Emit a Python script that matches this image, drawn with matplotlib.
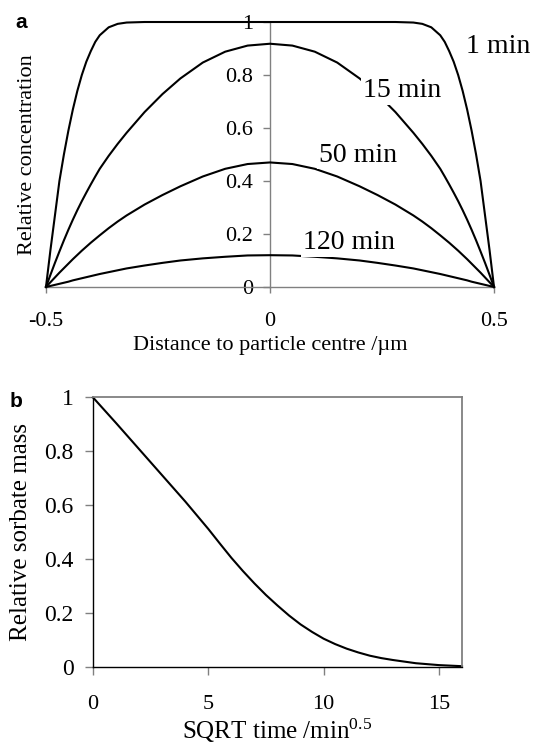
import matplotlib
matplotlib.use("Agg")
import matplotlib.pyplot as plt

plt.rcParams['font.family'] = ['Liberation Serif', 'DejaVu Serif']

# panel a: concentration profiles across the particle
dist = [-0.5, -0.49, -0.48, -0.47, -0.46, -0.45, -0.44, -0.43, -0.42, -0.41, -0.40,
        -0.39, -0.38, -0.36, -0.34, -0.32, -0.28, -0.24, -0.20, -0.15, -0.10, -0.05, 0,
        0.05, 0.10, 0.15, 0.20, 0.24, 0.28, 0.32, 0.34, 0.36, 0.38, 0.39,
        0.40, 0.41, 0.42, 0.43, 0.44, 0.45, 0.46, 0.47, 0.48, 0.49, 0.5]
c_1min = [0, 0.14, 0.27, 0.40, 0.50, 0.59, 0.67, 0.74, 0.80, 0.85, 0.89,
          0.925, 0.95, 0.98, 0.993, 0.998, 1, 1, 1, 1, 1, 1, 1,
          1, 1, 1, 1, 1, 1, 0.998, 0.993, 0.98, 0.95, 0.925,
          0.89, 0.85, 0.80, 0.74, 0.67, 0.59, 0.50, 0.40, 0.27, 0.14, 0]
c_15min = [0, 0.046, 0.091, 0.134, 0.176, 0.216, 0.254, 0.29, 0.324, 0.356, 0.387,
           0.417, 0.446, 0.495, 0.54, 0.582, 0.66, 0.728, 0.787, 0.847, 0.888, 0.911, 0.918,
           0.911, 0.888, 0.847, 0.787, 0.728, 0.66, 0.582, 0.54, 0.495, 0.446, 0.417,
           0.387, 0.356, 0.324, 0.29, 0.254, 0.216, 0.176, 0.134, 0.091, 0.046, 0]
c_50min = [0, 0.018, 0.036, 0.054, 0.071, 0.088, 0.105, 0.121, 0.137, 0.152, 0.167,
           0.181, 0.195, 0.222, 0.247, 0.27, 0.311, 0.347, 0.38, 0.417, 0.446, 0.464, 0.47,
           0.464, 0.446, 0.417, 0.38, 0.347, 0.311, 0.27, 0.247, 0.222, 0.195, 0.181,
           0.167, 0.152, 0.137, 0.121, 0.105, 0.088, 0.071, 0.054, 0.036, 0.018, 0]
c_120min = [0, 0.004, 0.008, 0.012, 0.016, 0.02, 0.025, 0.029, 0.033, 0.037, 0.041,
            0.045, 0.049, 0.056, 0.063, 0.07, 0.081, 0.091, 0.10, 0.108, 0.114, 0.119, 0.12,
            0.119, 0.114, 0.108, 0.10, 0.091, 0.081, 0.07, 0.063, 0.056, 0.049, 0.045,
            0.041, 0.037, 0.033, 0.029, 0.025, 0.02, 0.016, 0.012, 0.008, 0.004, 0]
curve_labels = ["1 min", "15 min", "50 min", "120 min"]
label_pos = [(0.509, 0.909), (0.295, 0.743), (0.196, 0.498), (0.176, 0.166)]

# panel b: sorbate mass vs sqrt(time)
sqrt_t = [0, 1, 2, 3, 4, 5, 5.5, 6, 6.5, 7, 7.5, 8, 8.5, 9, 9.5, 10, 10.5,
          11, 11.5, 12, 12.5, 13, 14, 15, 16]
mass = [1.0, 0.905, 0.808, 0.711, 0.614, 0.512, 0.458, 0.405, 0.356, 0.310, 0.267,
        0.228, 0.191, 0.158, 0.13, 0.105, 0.085, 0.068, 0.054, 0.042, 0.033, 0.026,
        0.014, 0.007, 0.003]

fig = plt.figure(figsize=(5.34, 7.46), dpi=100)
grey = '#808080'

# ---- panel a
ax1 = fig.add_axes([0.0861, 0.6153, 0.8390, 0.3552])
for ys in [c_1min, c_15min, c_50min, c_120min]:
    ax1.plot(dist, ys, color='black', lw=1.5, clip_on=False, zorder=3)
ax1.set_xlim(-0.5, 0.5)
ax1.set_ylim(0, 1)
ax1.spines['top'].set_visible(False)
ax1.spines['right'].set_visible(False)
ax1.spines['left'].set_position(('data', 0))
for s in ['left', 'bottom']:
    ax1.spines[s].set_color(grey)
    ax1.spines[s].set_linewidth(1)
ax1.set_xticks([-0.5, 0, 0.5], ['-0.5', '0', '0.5'])
ax1.set_yticks([0, 0.2, 0.4, 0.6, 0.8, 1], ['0', '0.2', '0.4', '0.6', '0.8', '1'])
ax1.tick_params(axis='y', direction='out', length=5, width=1, color=grey, pad=7, labelsize=16)
ax1.tick_params(axis='x', direction='out', length=4, width=1, color=grey, pad=14, labelsize=16)
ax1.set_xlabel('Distance to particle centre /\u00b5m', fontsize=16)
ax1.xaxis.set_label_coords(0.5, -0.185)
ax1.set_ylabel('Relative concentration', fontsize=16)
ax1.yaxis.set_label_coords(-0.02, 0.5)
for lab, (lx, ly) in zip(curve_labels, label_pos):
    ax1.text(lx, ly, lab, fontsize=20, ha='center', va='center', zorder=5,
             bbox=dict(facecolor='white', edgecolor='none', pad=1.5))

# ---- panel b
ax2 = fig.add_axes([0.1742, 0.1059, 0.6910, 0.3613])
ax2.plot(sqrt_t, mass, color='black', lw=1.5, clip_on=False)
ax2.set_xlim(0, 16)
ax2.set_ylim(0, 1)
ax2.spines['left'].set_color('black')
ax2.spines['bottom'].set_color('black')
ax2.spines['top'].set_color(grey)
ax2.spines['right'].set_color(grey)
for s in ax2.spines.values():
    s.set_linewidth(1)
ax2.spines['top'].set_linewidth(1.3)
ax2.spines['right'].set_linewidth(1.3)
ax2.set_xticks([0, 5, 10, 15], ['0', '5', '10', '15'])
ax2.set_yticks([0, 0.2, 0.4, 0.6, 0.8, 1], ['0', '0.2', '0.4', '0.6', '0.8', '1'])
ax2.tick_params(axis='y', direction='out', length=6, width=1, color=grey, pad=8, labelsize=17)
ax2.tick_params(axis='x', direction='out', length=6, width=1, color=grey, pad=14, labelsize=16)
ax2.set_xlabel('SQRT time /min$\\mathregular{^{0.5}}$', fontsize=18)
ax2.xaxis.set_label_coords(0.5, -0.185)
ax2.set_ylabel('Relative sorbate mass', fontsize=18)
ax2.yaxis.set_label_coords(-0.165, 0.5)

fig.text(15 / 534, 1 - 28 / 746, 'a', fontsize=15, fontweight='bold', family='Liberation Sans')
fig.text(10 / 534, 1 - 407 / 746, 'b', fontsize=15, fontweight='bold', family='Liberation Sans')

fig.savefig('out.png', dpi=100)
